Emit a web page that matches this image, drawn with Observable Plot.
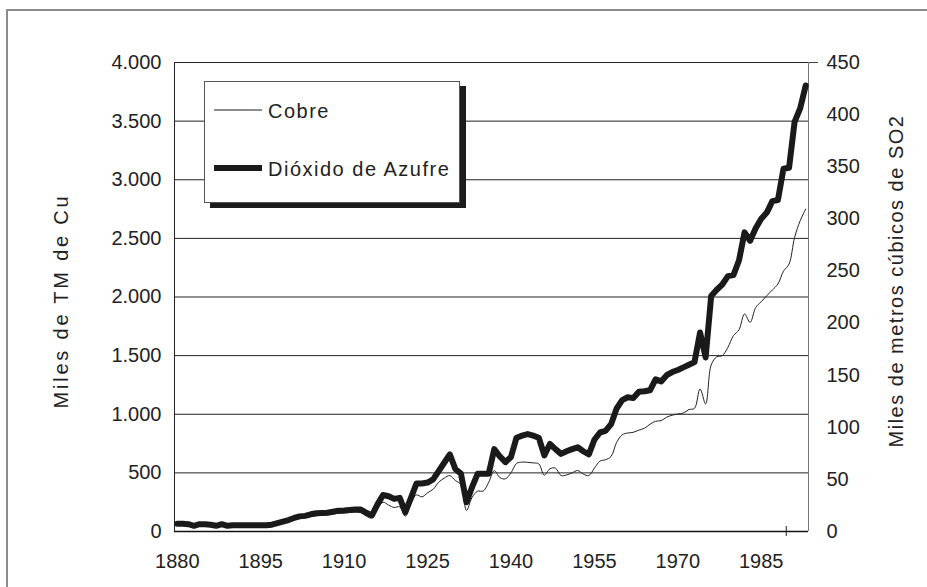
<!DOCTYPE html>
<html>
<head>
<meta charset="utf-8">
<script src="https://cdn.jsdelivr.net/npm/d3@7"></script>
<script src="https://cdn.jsdelivr.net/npm/@observablehq/plot@0.6"></script>
<style>
  html, body { margin: 0; padding: 0; background: #fff; }
  #wrap { position: relative; width: 927px; height: 587px; overflow: hidden; background: #fff; }
  #border { position: absolute; left: 6px; top: 9px; width: 1200px; height: 1200px;
            border-left: 2px solid #8c8c8c; border-top: 2px solid #8c8c8c; pointer-events: none; }
  #chart { position: absolute; left: 0; top: 0; }
  #legend { position: absolute; left: 204px; top: 81px; width: 254px; height: 120px;
            border: 1px solid #555; background: #fff; box-shadow: 6px 5px 0 #1c1c1c; }
  #legend svg { display: block; }
  #legend text { font-family: "Liberation Sans", Arial, sans-serif; font-size: 20px; fill: #222; letter-spacing: 1.5px; }
</style>
</head>
<body>
<div id="wrap">
  <div id="border"></div>
  <div id="chart"></div>
  <div id="legend"></div>
</div>
<script>
// ---- Data ----
const years = d3.range(1880, 1994); // 1880 ... 1993 (categories)

// Copper production, thousands of metric tons (left axis)
const cobre = [
  55, 55, 50, 42, 52, 52, 48, 42, 52, 42,            // 1880-1889
  42, 42, 42, 42, 42, 42, 42, 50, 62, 75,            // 1890-1899
  85, 100, 112, 120, 128, 135, 138, 142, 150, 155,   // 1900-1909
  158, 162, 165, 160, 130, 115, 195, 250, 225, 205,  // 1910-1919
  210, 130, 240, 312, 295, 330, 360, 420, 455, 477,  // 1920-1929
  435, 400, 180, 290, 344, 345, 420, 520, 460, 449,  // 1930-1939
  500, 580, 592, 590, 585, 577, 480, 535, 540, 477,  // 1940-1949
  482, 500, 520, 490, 477, 540, 600, 612, 640, 760,  // 1950-1959
  825, 840, 846, 865, 880, 915, 940, 946, 975, 992,  // 1960-1969
  1003, 1010, 1040, 1050, 1216, 1088, 1420, 1490, 1500, 1570, // 1970-1979
  1670, 1720, 1855, 1784, 1910, 1960, 2011, 2060, 2111, 2220, // 1980-1989
  2281, 2508, 2650, 2750                               // 1990-1993
];

// Sulphur dioxide, thousands of cubic metres (right axis)
const so2 = [
  7.5, 7.5, 7, 5.5, 7, 7, 6.5, 5.5, 7, 5.5,          // 1880-1889
  6, 6, 6, 6, 6, 6, 6, 6.5, 8, 9.5,                  // 1890-1899
  11, 13, 14.5, 15, 16.5, 17.5, 17.8, 18, 19, 20,    // 1900-1909
  20.2, 20.6, 21, 21, 18, 15.5, 26, 35, 33.8, 31.3,  // 1910-1919
  32.3, 18.5, 32, 46, 46, 47, 50, 58, 66, 74,        // 1920-1929
  60, 55.5, 28, 42.5, 55.3, 55.5, 55.5, 79, 72, 66.5,// 1930-1939
  71.5, 90, 92, 93.5, 92, 90, 73, 84, 79, 74.5,      // 1940-1949
  77, 79, 80.8, 77, 74, 88, 95, 96.5, 103, 118,      // 1950-1959
  126, 128.8, 128, 134, 134.5, 135.5, 146, 144, 150, 153, // 1960-1969
  155, 157.5, 160, 162.5, 191, 167, 226, 232, 237, 245,   // 1970-1979
  246, 260, 287, 279, 291, 300, 306, 317, 318, 348,       // 1980-1989
  349, 393, 406, 428                                      // 1990-1993
];

const seriesNames = ["Cobre", "Dióxido de Azufre"];
const leftTicks = [0, 500, 1000, 1500, 2000, 2500, 3000, 3500, 4000];
const rightTicks = [0, 50, 100, 150, 200, 250, 300, 350, 400, 450];
const xTickYears = [1880, 1895, 1910, 1925, 1940, 1955, 1970, 1985];
const xMarkTick = [1989.5];
const leftTitle = "Miles de TM de Cu";
const rightTitle = "Miles de metros cúbicos de SO2";

// right axis maps 0..450 onto left 0..4000
const ratio = 4000 / 450;

const cobreData = years.map((year, i) => ({year, value: cobre[i]}));
const so2Data = years.map((year, i) => ({year, value: so2[i]}));

const fmtLeft = d => d >= 1000 ? d3.format(",")(d).replace(/,/g, ".") : String(d);

const plot = Plot.plot({
  width: 927,
  height: 587,
  marginLeft: 174,
  marginRight: 119,
  marginTop: 62,
  marginBottom: 56,
  style: {fontFamily: "'Liberation Sans', Arial, sans-serif", fontSize: "20px", color: "#222", background: "transparent"},
  x: {domain: [years[0] - 0.5, years[years.length - 1] + 0.5]},
  y: {domain: [0, 4000]},
  marks: [
    Plot.gridY(leftTicks.filter(d => d > 0), {stroke: "#222", strokeOpacity: 1, strokeWidth: 1}),
    Plot.axisY(leftTicks, {anchor: "left", tickSize: 0, tickPadding: 13, tickFormat: fmtLeft, label: null}),
    Plot.axisY(rightTicks.map(v => v * ratio), {anchor: "right", tickSize: 0, tickPadding: 18,
      tickFormat: d => String(Math.round(d / ratio)), label: null}),
    Plot.axisY([leftTicks[leftTicks.length - 1]], {anchor: "right", tickSize: 9, tickFormat: () => "", label: null, stroke: "#444"}),
    Plot.axisX(xTickYears, {anchor: "bottom", tickSize: 0, tickPadding: 22, tickFormat: d => String(d), label: null}),
    Plot.ruleX([years[0] - 0.5], {stroke: "#222"}),
    Plot.ruleX([years[years.length - 1] + 0.5], {stroke: "#777"}),
    Plot.ruleY([0], {stroke: "#111", strokeWidth: 1.3}),
    Plot.ruleX(xMarkTick, {y1: -43, y2: 43, stroke: "#222"}),
    Plot.line(cobreData, {x: "year", y: "value", stroke: "#222", strokeWidth: 1, curve: "catmull-rom"}),
    Plot.line(so2Data, {x: "year", y: d => d.value * ratio, stroke: "#1a1a1a", strokeWidth: 6,
      strokeLinejoin: "round", strokeLinecap: "round"}),
    Plot.text([leftTitle], {frameAnchor: "left", textAnchor: "middle", lineAnchor: "middle",
      dx: -113, dy: 4, rotate: -90, fill: "#222", fontSize: 20}),
    Plot.text([rightTitle], {frameAnchor: "right", textAnchor: "middle", lineAnchor: "middle",
      dx: 88, dy: -16, rotate: -90, fill: "#222", fontSize: 20})
  ]
});

// spacing to match the wide typeface of the original
plot.querySelectorAll("text").forEach(t => {
  if (t.textContent === leftTitle) t.style.letterSpacing = "2.8px";
  else if (t.textContent === rightTitle) t.style.letterSpacing = "1.5px";
});
document.getElementById("chart").appendChild(plot);

// Legend (HTML box with shadow)
const legendSvg = d3.select("#legend").append("svg").attr("width", 254).attr("height", 120);
const legendItems = [
  {name: seriesNames[0], y: 28, w: 1},
  {name: seriesNames[1], y: 86, w: 6}
];
legendItems.forEach(it => {
  legendSvg.append("line").attr("x1", 9).attr("x2", 57).attr("y1", it.y).attr("y2", it.y)
    .attr("stroke", "#1a1a1a").attr("stroke-width", it.w);
  legendSvg.append("text").attr("x", 63).attr("y", it.y + 8).text(it.name);
});
</script>
</body>
</html>
